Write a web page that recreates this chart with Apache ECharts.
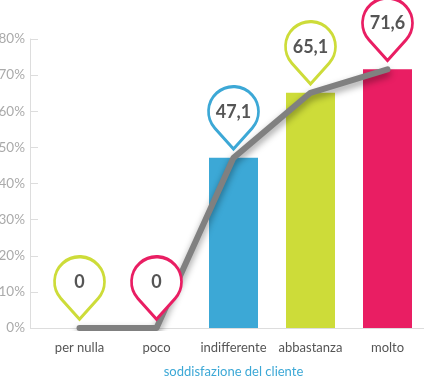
<!DOCTYPE html>
<html>
<head>
<meta charset="utf-8">
<script src="https://cdn.jsdelivr.net/npm/echarts@6/dist/echarts.min.js"></script>
<style>
  html, body { margin: 0; padding: 0; background: #fff; }
  #chart { width: 424px; height: 377px; }
</style>
</head>
<body>
<div id="chart"></div>
<script>
var categories = ['per nulla', 'poco', 'indifferente', 'abbastanza', 'molto'];
var values = [0, 0, 47.1, 65.1, 71.6];
var barColors = ['#cddc39', '#e91e63', '#3ca8d6', '#cddc39', '#e91e63'];
var pinColors = ['#cddc39', '#e91e63', '#3ca8d6', '#cddc39', '#e91e63'];
var yTicks = [0, 10, 20, 30, 40, 50, 60, 70, 80];

// goccia: cerchio + punta
var pinPath = 'path://M-74.5 66.7A100 100 0 1 1 74.5 66.7L0 150Z';

var font = 'Lato';

var option = {
    animation: false,
    grid: {
        left: 41,
        right: -2,
        top: 39,
        bottom: 49,
        outerBoundsMode: 'none'
    },
    xAxis: {
        type: 'category',
        data: categories,
        name: 'soddisfazione del cliente',
        nameLocation: 'middle',
        nameGap: 37,
        nameTextStyle: { color: '#3ca8d6', fontSize: 13, fontFamily: font },
        axisLine: { lineStyle: { color: '#dddddd', width: 1 } },
        axisTick: { show: false },
        axisLabel: { color: '#555', fontSize: 13, fontFamily: font, margin: 13, interval: 0 }
    },
    yAxis: {
        type: 'value',
        min: yTicks[0],
        max: yTicks[yTicks.length - 1],
        interval: 10,
        offset: 11,
        axisLine: { show: true, lineStyle: { color: '#dddddd', width: 1 } },
        axisTick: { show: true, inside: true, length: 8, lineStyle: { color: '#dddddd' } },
        splitLine: { show: false },
        axisLabel: { color: '#aaa', fontSize: 13.5, fontFamily: font, margin: 5, formatter: '{value}%' }
    },
    series: [
        {
            type: 'bar',
            barWidth: 49,
            data: values.map(function (v, i) {
                return { value: v, itemStyle: { color: barColors[i] } };
            })
        },
        {
            type: 'line',
            data: values,
            z: 3,
            symbol: 'none',
            lineStyle: {
                color: '#808080',
                width: 6,
                cap: 'round',
                join: 'round',
                shadowColor: 'rgba(0,0,0,0.4)',
                shadowBlur: 7,
                shadowOffsetY: 4
            },
            markPoint: {
                symbol: pinPath,
                symbolSize: [50, 62.5],
                symbolOffset: [0, -40],
                label: {
                    show: true,
                    offset: [0, -6],
                    color: '#555',
                    fontSize: 18,
                    fontWeight: 'bold',
                    fontFamily: font,
                    formatter: function (p) {
                        return String(p.value).replace('.', ',');
                    }
                },
                data: values.map(function (v, i) {
                    return {
                        coord: [i, v],
                        value: v,
                        itemStyle: { color: '#fff', borderColor: pinColors[i], borderWidth: 3 }
                    };
                })
            }
        }
    ]
};

var myChart = echarts.init(document.getElementById('chart'));
myChart.setOption(option);

// prolunga l'asse x fino all'asse y spostato
var y0 = myChart.convertToPixel({ yAxisIndex: 0 }, 0);
myChart.setOption({
    graphic: [{
        type: 'line',
        shape: { x1: 30, y1: Math.round(y0) + 0.5, x2: 41, y2: Math.round(y0) + 0.5 },
        style: { stroke: '#dddddd', lineWidth: 1 },
        silent: true
    }]
});
</script>
</body>
</html>
